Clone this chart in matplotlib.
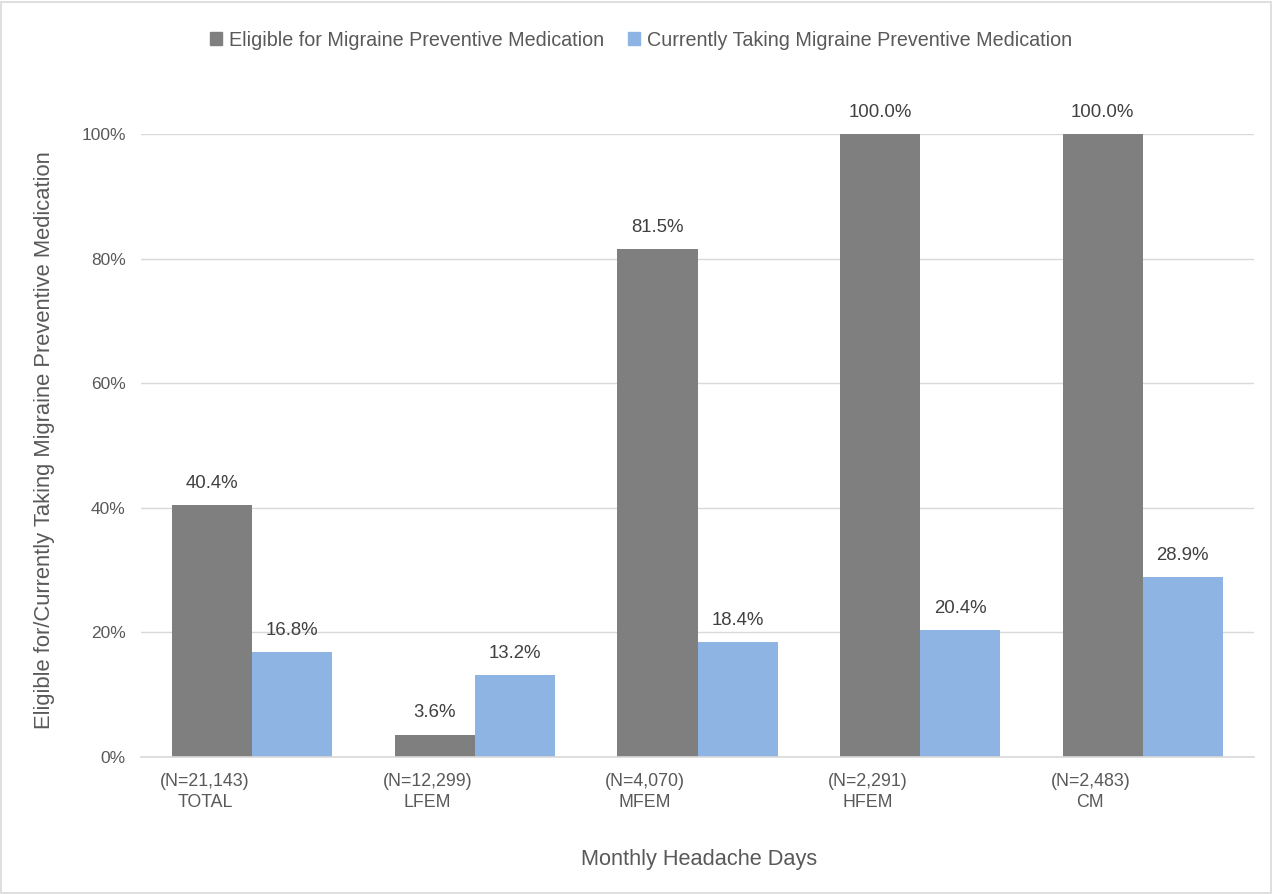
import matplotlib
matplotlib.use("Agg")
import matplotlib.pyplot as plt
from matplotlib.patches import Rectangle, Patch
import numpy as np

plt.rcParams['font.family'] = ['Liberation Sans', 'DejaVu Sans']

categories = ["TOTAL", "LFEM", "MFEM", "HFEM", "CM"]
n_labels = ["(N=21,143)", "(N=12,299)", "(N=4,070)", "(N=2,291)", "(N=2,483)"]
eligible = [40.4, 3.6, 81.5, 100.0, 100.0]
taking = [16.8, 13.2, 18.4, 20.4, 28.9]
series_names = ["Eligible for Migraine Preventive Medication",
                "Currently Taking Migraine Preventive Medication"]
yticks = [0, 20, 40, 60, 80, 100]

c_dark = "#7f7f7f"
c_blue = "#8eb4e3"
txt = "#595959"

fig = plt.figure(figsize=(12.74, 8.94), dpi=100)
ax = fig.add_axes([141/1274, 1-757/894, 1113/1274, (757-134)/894])

x = np.arange(len(categories))
w = 0.36
b1 = ax.bar(x - w/2, eligible, w, color=c_dark, zorder=3)
b2 = ax.bar(x + w/2, taking, w, color=c_blue, zorder=3)

for bars, vals in ((b1, eligible), (b2, taking)):
    for r, v in zip(bars, vals):
        ax.annotate(f"{v:.1f}%", (r.get_x() + r.get_width()/2, v),
                    xytext=(0, 9.5), textcoords="offset points",
                    ha="center", va="bottom", fontsize=13.4, color="#404040")

ax.set_xlim(-0.5, len(categories) - 0.5)
ax.set_ylim(0, 100)
ax.set_yticks(yticks)
ax.set_yticklabels([f"{t}%" for t in yticks])
ax.tick_params(axis='y', length=0, labelsize=12.5, colors=txt, pad=11)
ax.set_xticks([])
ax.grid(axis='y', color="#d9d9d9", linewidth=1, zorder=0)
for s in ["top", "right", "left"]:
    ax.spines[s].set_visible(False)
ax.spines["bottom"].set_color("#d9d9d9")
ax.spines["bottom"].set_linewidth(1.2)
ax.spines["bottom"].set_zorder(4)

for i, (n, c) in enumerate(zip(n_labels, categories)):
    ax.text(i - 0.5 + 19/222.6, -2.6, f"{n}\n{c}", ha="left", va="top",
            multialignment="center", fontsize=12.8, color=txt, linespacing=1.32,
            transform=ax.transData)

fig.text(699/1274, 1-860/894, "Monthly Headache Days", ha="center", va="center",
         fontsize=15.7, color=txt)
fig.text(45/1274, 1-440/894, "Eligible for/Currently Taking Migraine Preventive Medication",
         ha="center", va="center", rotation=90, fontsize=15.8, color=txt)

handles = [Patch(color=c_dark), Patch(color=c_blue)]
fig.legend(handles, series_names, loc="center", bbox_to_anchor=(641/1274, 1-40/894),
           ncol=2, frameon=False, fontsize=14.2, handlelength=0.6, handleheight=0.6,
           handletextpad=0.35, columnspacing=1.2, labelcolor=txt)

fig.patches.append(Rectangle((0.001, 0.001), 0.997, 0.997, transform=fig.transFigure,
                             fill=False, edgecolor="#d9d9d9", linewidth=1.2))

fig.savefig("out.png", dpi=100)
